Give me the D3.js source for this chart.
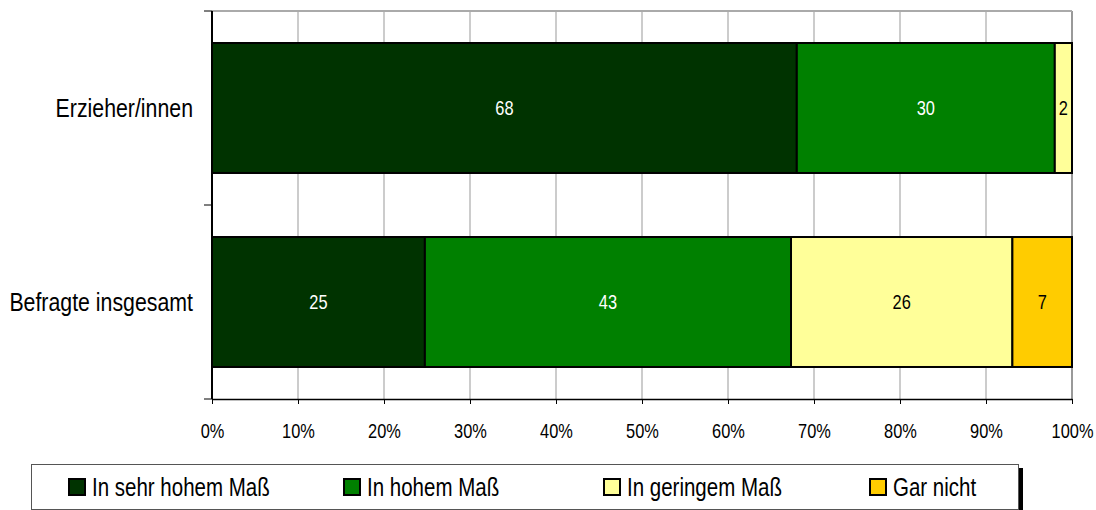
<!DOCTYPE html>
<html>
<head>
<meta charset="utf-8">
<script src="https://cdn.jsdelivr.net/npm/d3@7"></script>
<style>
body { margin: 0; background: #fff; }
svg { display: block; font-family: "Liberation Sans Narrow", "Arial Narrow", "Liberation Sans", sans-serif; }
</style>
</head>
<body>
<svg id="chart" width="1096" height="510"></svg>
<script>
var categories = ["Erzieher/innen", "Befragte insgesamt"];
var seriesNames = ["In sehr hohem Maß", "In hohem Maß", "In geringem Maß", "Gar nicht"];
var sehrHoch = [68, 25];
var hoch = [30, 43];
var gering = [2, 26];
var garNicht = [0, 7];
var tickValues = [0, 0.1, 0.2, 0.3, 0.4, 0.5, 0.6, 0.7, 0.8, 0.9, 1];

var colors = ["#003300", "#008000", "#ffff99", "#ffcc00"];
var labelColors = ["#fff", "#fff", "#000", "#000"];
var narrow = 0.82; // squeeze text like a narrow face

var svg = d3.select("#chart");
var margin = { top: 11, left: 212, right: 24, bottom: 111 },
    width = +svg.attr("width") - margin.left - margin.right,
    height = +svg.attr("height") - margin.top - margin.bottom;

var rows = categories.map(function(c, i) {
    return { cat: c, s0: sehrHoch[i], s1: hoch[i], s2: gering[i], s3: garNicht[i] };
});

var stack = d3.stack().keys(["s0", "s1", "s2", "s3"]).offset(d3.stackOffsetExpand);
var layers = stack(rows);

var x = d3.scaleLinear().domain([0, 1]).range([0, width]);
var y = d3.scaleBand().domain(categories).range([0, height]).paddingInner(0.33).paddingOuter(0.165);

var g = svg.append("g").attr("transform", "translate(" + margin.left + "," + margin.top + ")");

// grid
g.selectAll(".grid")
    .data(tickValues.slice(1))
    .enter().append("line")
    .attr("x1", function(d) { return x(d); })
    .attr("x2", function(d) { return x(d); })
    .attr("y1", 0).attr("y2", height)
    .attr("stroke", "#999")
    .attr("stroke-width", function(d) { return d === 1 ? 2 : 1; });
g.append("line")
    .attr("x1", 0).attr("x2", width).attr("y1", 0).attr("y2", 0)
    .attr("stroke", "#aaa").attr("stroke-width", 2);

// bars
var layer = g.selectAll(".layer")
    .data(layers)
    .enter().append("g")
    .attr("class", "layer");

layer.selectAll("rect")
    .data(function(d, i) { return d.map(function(p) { return { p: p, i: i }; }); })
    .enter().append("rect")
    .filter(function(d) { return d.p[1] - d.p[0] > 0; })
    .attr("x", function(d) { return x(d.p[0]); })
    .attr("y", function(d) { return y(d.p.data.cat); })
    .attr("width", function(d) { return x(d.p[1]) - x(d.p[0]); })
    .attr("height", y.bandwidth())
    .attr("fill", function(d) { return colors[d.i]; })
    .attr("stroke", "#000")
    .attr("stroke-width", 2);

layer.selectAll("text")
    .data(function(d, i) { return d.map(function(p) { return { p: p, i: i, key: d.key }; }); })
    .enter().append("text")
    .filter(function(d) { return d.p.data[d.key] > 0; })
    .attr("transform", function(d) {
        return "translate(" + x((d.p[0] + d.p[1]) / 2) + "," + (y(d.p.data.cat) + y.bandwidth() / 2) + ") scale(" + narrow + ",1)";
    })
    .attr("dy", "0.35em")
    .attr("text-anchor", "middle")
    .attr("font-size", 20)
    .attr("fill", function(d) { return labelColors[d.i]; })
    .text(function(d) { return d.p.data[d.key]; });

// x axis
var xAxis = g.append("g")
    .attr("transform", "translate(0," + height + ")")
    .call(d3.axisBottom(x).tickValues(tickValues).tickFormat(d3.format(".0%")).tickSize(5).tickSizeOuter(0));
xAxis.select(".domain").attr("stroke", "#000").attr("stroke-width", 1.5);
xAxis.selectAll(".tick line").attr("stroke", "#000");
xAxis.selectAll(".tick text")
    .attr("font-size", 20).attr("fill", "#000")
    .attr("y", 39).attr("dy", 0)
    .attr("transform", "scale(" + narrow + ",1)");

// y axis
g.append("line")
    .attr("x1", 0).attr("x2", 0).attr("y1", 0).attr("y2", height)
    .attr("stroke", "#000").attr("stroke-width", 2);
g.selectAll(".ytick")
    .data([0, height / 2, height])
    .enter().append("line")
    .attr("x1", -8).attr("x2", 0)
    .attr("y1", function(d) { return d; }).attr("y2", function(d) { return d; })
    .attr("stroke", "#000");
g.selectAll(".ylabel")
    .data(categories)
    .enter().append("text")
    .attr("transform", function(d) {
        return "translate(-19," + (y(d) + y.bandwidth() / 2) + ") scale(" + narrow + ",1)";
    })
    .attr("dy", "0.36em")
    .attr("text-anchor", "end")
    .attr("font-size", 26)
    .text(function(d) { return d; });

// legend
var legend = svg.append("g");
legend.append("rect").attr("x", 1019).attr("y", 468).attr("width", 4).attr("height", 45).attr("fill", "#000");
legend.append("rect")
    .attr("x", 31.5).attr("y", 464.5).attr("width", 987).attr("height", 45)
    .attr("fill", "#fff").attr("stroke", "#555").attr("stroke-width", 1);
var legendX = [69, 344, 604, 870];
var item = legend.selectAll(".item")
    .data(seriesNames)
    .enter().append("g")
    .attr("transform", function(d, i) { return "translate(" + legendX[i] + ",487)"; });
item.append("rect")
    .attr("x", 0).attr("y", -8).attr("width", 16).attr("height", 16)
    .attr("fill", function(d, i) { return colors[i]; })
    .attr("stroke", "#000").attr("stroke-width", 2);
item.append("text")
    .attr("transform", "translate(23,0) scale(" + narrow + ",1)")
    .attr("dy", "0.36em")
    .attr("font-size", 25)
    .text(function(d) { return d; });
</script>
</body>
</html>
